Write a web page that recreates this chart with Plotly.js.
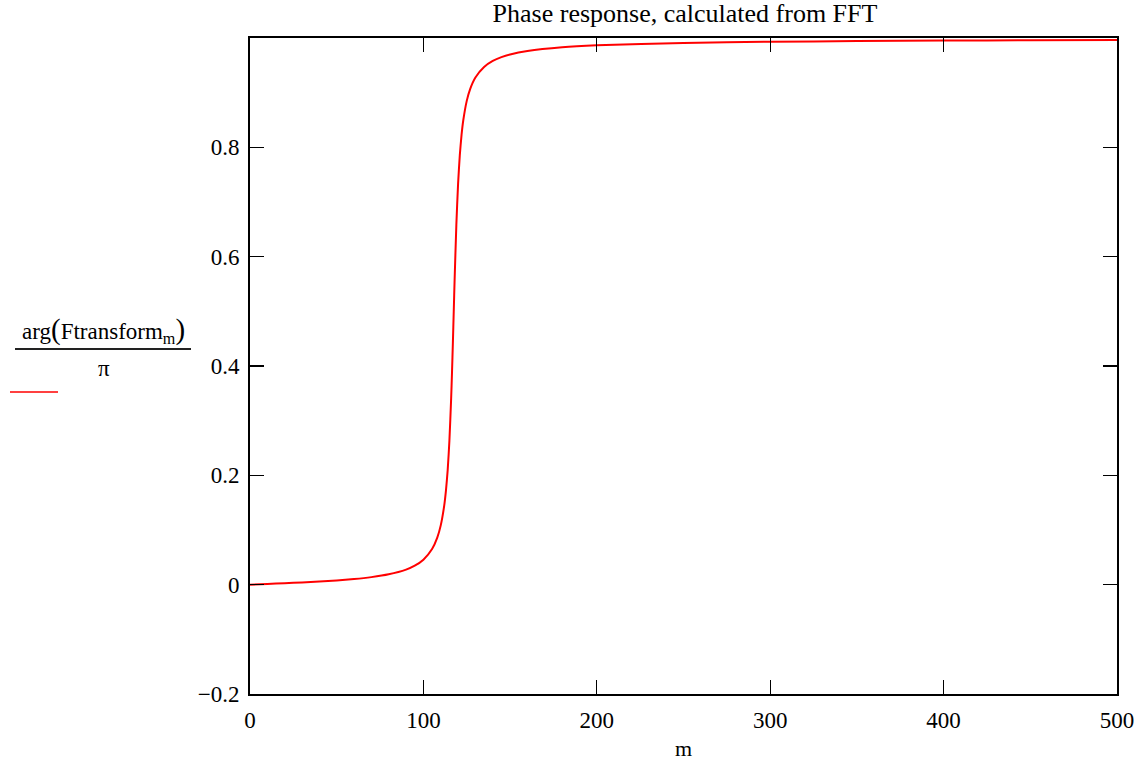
<!DOCTYPE html>
<html>
<head>
<meta charset="utf-8">
<script src="https://cdn.plot.ly/plotly-3.0.1.min.js"></script>
<style>
html,body{margin:0;padding:0;background:#fff;}
#chart{width:1148px;height:761px;}
</style>
</head>
<body>
<div id="chart"></div>
<script>
// index m
var mValues = [0,10,20,30,40,50,60,70,80,90,95,100,105,108,110,112,113,114,115,116,116.5,117,117.5,118,119,120,121,122,123,125,127,130,135,140,145,150,160,180,200,250,300,350,400,450,500];
// arg(Ftransform_m)/pi
var phaseValues = [0,0.0013,0.0026,0.0041,0.0057,0.0077,0.0103,0.0138,0.0189,0.0275,0.0347,0.0457,0.0652,0.0861,0.1085,0.1445,0.1719,0.2096,0.2635,0.3403,0.3885,0.4427,0.5,0.5573,0.6582,0.7332,0.7857,0.8227,0.8495,0.8850,0.9070,0.9277,0.9470,0.9580,0.9650,0.9699,0.9763,0.9831,0.9866,0.9910,0.9931,0.9944,0.9952,0.9958,0.9963];
var xTicks = [0,100,200,300,400,500];
var yTicks = [-0.2,0,0.2,0.4,0.6,0.8];
var titleText = "Phase response, calculated from FFT";
var xTitle = "m";

var font = "'Liberation Serif','Times New Roman',serif";
var L = 250, R = 1117, T = 38, B = 694;
function px(x){ return (x - L) / (R - L); }
function py(y){ return (B - y) / (B - T); }

var trace = {
  x: mValues, y: phaseValues, type: 'scatter', mode: 'lines',
  line: {color: '#ff0000', width: 2, shape: 'spline', smoothing: 0.6},
  hoverinfo: 'skip', showlegend: false
};

var axisCommon = {
  showgrid: false, zeroline: false, showline: true, linecolor: '#000', linewidth: 2,
  mirror: 'ticks', ticks: 'inside', ticklen: 14, tickwidth: 1.3, tickcolor: '#000',
  tickfont: {family: font, size: 23, color: '#000'}
};

var layout = {
  width: 1148, height: 761,
  margin: {l: L, r: 1148 - R, t: T, b: 761 - B, pad: 0},
  paper_bgcolor: '#fff', plot_bgcolor: '#fff',
  title: {text: titleText, font: {family: font, size: 26, color: '#000'}, x: px(685), xref: 'paper', xanchor: 'center', y: 1 - 13/761, yanchor: 'middle'},
  xaxis: Object.assign({}, axisCommon, {
    range: [0, 500], tickvals: xTicks, ticktext: xTicks.map(String), ticklabelstandoff: 4,
    title: {text: xTitle, font: {family: font, size: 22, color: '#000'}, standoff: 12}
  }),
  yaxis: Object.assign({}, axisCommon, {
    range: [-0.2, 1.0], tickvals: yTicks, ticktext: yTicks.map(function(v){ return v === 0 ? '0' : (v < 0 ? '\u2212' + Math.abs(v) : String(v)); }),
    ticklabelstandoff: 4
  }),
  annotations: [
    {xref: 'paper', yref: 'paper', x: px(103), y: py(330), xanchor: 'center', yanchor: 'middle', showarrow: false,
     text: 'arg<span style="font-size:29px">(</span>Ftransform<sub>m</sub><span style="font-size:29px">)</span>',
     font: {family: font, size: 23, color: '#000'}},
    {xref: 'paper', yref: 'paper', x: px(104), y: py(368), xanchor: 'center', yanchor: 'middle', showarrow: false,
     text: '\u03c0', font: {family: font, size: 23, color: '#000'}}
  ],
  shapes: [
    {type: 'line', xref: 'paper', yref: 'paper', x0: px(15), x1: px(191), y0: py(349), y1: py(349), line: {color: '#222', width: 2}},
    {type: 'line', xref: 'paper', yref: 'paper', x0: px(10), x1: px(58), y0: py(392), y1: py(392), line: {color: '#ff0000', width: 1.3}}
  ]
};

Plotly.newPlot('chart', [trace], layout, {displayModeBar: false, staticPlot: true});
</script>
</body>
</html>
